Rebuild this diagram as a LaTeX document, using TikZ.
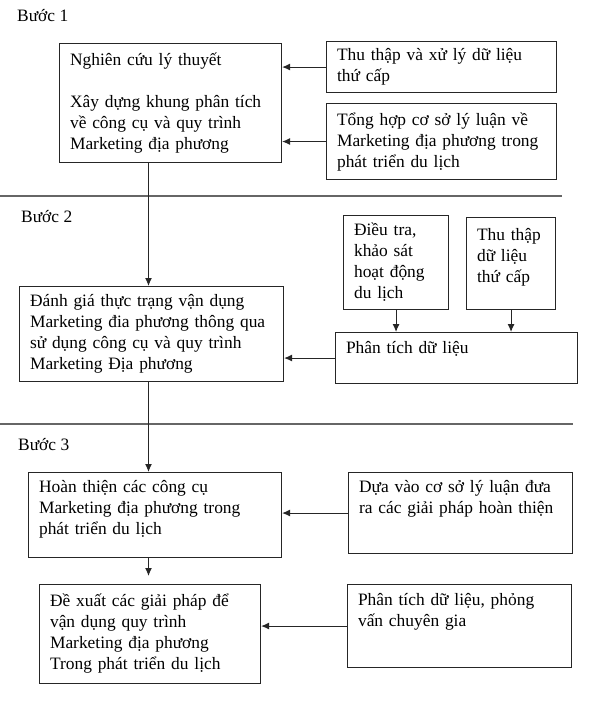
\documentclass[tikz,border=0pt]{standalone}
\usepackage{fontspec}
\setmainfont{Liberation Serif}
\usetikzlibrary{positioning}
\usetikzlibrary{arrows.meta}

\begin{document}
\begin{tikzpicture}[
  x=1pt, y=-1pt,
  stepbox/.style={draw=black!85, line width=1.1pt, anchor=north west, align=left, inner xsep=10.5pt, inner ysep=2pt, font=\fontsize{17.4}{21}\selectfont},
  steplabel/.style={anchor=base west, inner sep=0pt, font=\fontsize{17.4}{21}\selectfont},
  divider/.style={draw=black!60, line width=1.6pt},
  flow/.style={draw=black!85, line width=1pt, -{Latex[length=8pt,width=7pt]}}
]
\useasboundingbox (0,0) rectangle (599,722);

% Step labels
\node[steplabel] (step1) at (17,21.5) {Bước 1};
\node[steplabel] (step2) at (21,222) {Bước 2};
\node[steplabel] (step3) at (18,450) {Bước 3};

% Dividers between steps
\coordinate (div1a) at (0,196);
\coordinate (div1b) at (562,196);
\coordinate (div2a) at (0,424);
\coordinate (div2b) at (573,424);
\draw[divider] (div1a) -- (div1b);
\draw[divider] (div2a) -- (div2b);

% Step 1
\node[stepbox, text width=201pt, minimum height=119pt] (theory) at (59,43)
  {Nghiên cứu lý thuyết\\[21pt]
   \makebox[\hsize][s]{Xây dựng khung phân tích}\\
   \makebox[\hsize][s]{về công cụ và quy trình}\\
   Marketing địa phương};
\node[stepbox, text width=209pt, minimum height=51pt] (collect) at (326,41)
  {Thu thập và xử lý dữ liệu\\ thứ cấp};
\node[stepbox, text width=209pt, minimum height=76pt] (synth) at (326,103)
  {Tổng hợp cơ sở lý luận về\\ Marketing địa phương trong\\ phát triển du lịch};

% Step 2
\node[stepbox, text width=84pt, minimum height=94pt] (survey) at (343,215)
  {Điều tra,\\ khảo sát\\ hoạt động\\ du lịch};
\node[stepbox, text width=68pt, minimum height=92pt] (second) at (466,217)
  {Thu thập\\ dữ liệu\\ thứ cấp\\[-4pt]\mbox{}};
\node[stepbox, text width=221pt, minimum height=51pt] (analysis) at (335,332)
  {Phân tích dữ liệu\\[1pt]\mbox{}};
\node[stepbox, text width=243pt, minimum height=95pt] (assess) at (19,286)
  {Đánh giá thực trạng vận dụng\\ Marketing đia phương thông qua\\ sử dụng công cụ và quy trình\\ Marketing Địa phương};

% Step 3
\node[stepbox, text width=232pt, minimum height=85pt] (improve) at (28,472)
  {Hoàn thiện các công cụ\\ Marketing địa phương trong\\ phát triển du lịch\\[-5pt]\mbox{}};
\node[stepbox, text width=203pt, minimum height=81pt] (basis) at (348,472)
  {Dựa vào cơ sở lý luận đưa\\ ra các giải pháp hoàn thiện\\[12pt]\mbox{}};
\node[stepbox, text width=200pt, minimum height=99pt] (propose) at (39,584)
  {Đề xuất các giải pháp để\\ vận dụng quy trình\\ Marketing địa phương\\ Trong phát triển du lịch};
\node[stepbox, text width=203pt, minimum height=83pt] (expert) at (347,584)
  {Phân tích dữ liệu, phỏng\\ vấn chuyên gia\\[12pt]\mbox{}};

% Connectors
\coordinate (spine) at (148.5,0);
\draw[flow] (collect.west) -- (theory.east |- collect.west);
\draw[flow] (synth.west) -- (theory.east |- synth.west);
\draw[flow] (theory.south -| spine) -- (assess.north -| spine);
\draw[flow] (survey.south) -- (analysis.north -| survey.south);
\draw[flow] (second.south) -- (analysis.north -| second.south);
\draw[flow] (analysis.west) -- (assess.east |- analysis.west);
\draw[flow] (assess.south -| spine) -- (improve.north -| spine);
\draw[flow] (basis.west) -- (improve.east |- basis.west);
\draw[flow, shorten >=8pt] (improve.south -| spine) -- (propose.north -| spine);
\draw[flow] (expert.west) -- (propose.east |- expert.west);

\end{tikzpicture}
\end{document}
